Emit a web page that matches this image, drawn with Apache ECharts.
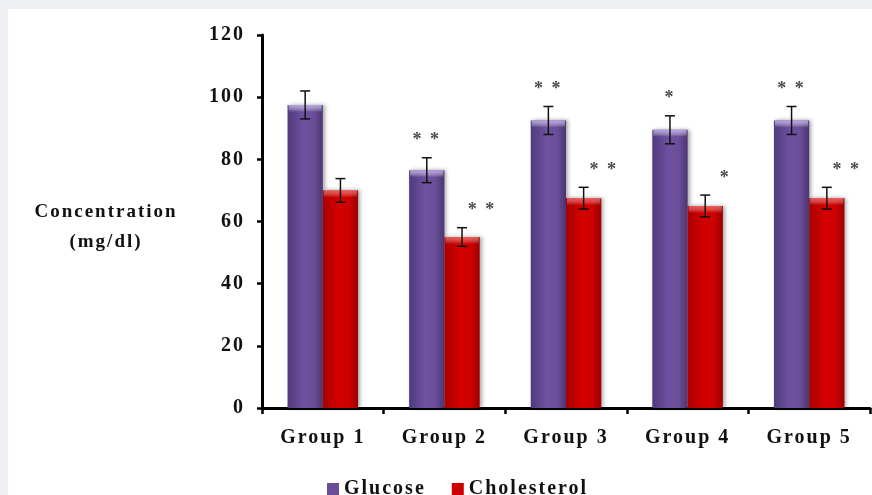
<!DOCTYPE html>
<html><head><meta charset="utf-8">
<script src="https://cdn.jsdelivr.net/npm/echarts@6/dist/echarts.min.js"></script>
<style>html,body{margin:0;padding:0;background:#eef0f3;}#wrap{position:absolute;left:8px;top:9px;width:864px;height:486px;background:#fff;}#c{position:absolute;left:0;top:0;width:872px;height:495px;}</style>
</head><body><div id="wrap"></div><div id="c"></div>
<script>
var categories = ['Group 1', 'Group 2', 'Group 3', 'Group 4', 'Group 5'];
var glucose = [97.5, 76.5, 92.5, 89.5, 92.5];
var glucoseErr = [4.5, 4, 4.5, 4.5, 4.5];
var glucoseSig = ['', '**', '**', '*', '**'];
var cholesterol = [70, 55, 67.5, 65, 67.5];
var cholesterolErr = [3.8, 3, 3.5, 3.5, 3.5];
var cholesterolSig = ['', '**', '**', '*', '**'];
var yTicks = [0, 20, 40, 60, 80, 100, 120];

// widen glyph spacing of drawn text (reference text is loosely spaced)
(function () {
  var proto = CanvasRenderingContext2D.prototype;
  var orig = proto.fillText;
  proto.fillText = function () {
    if ('letterSpacing' in this) { this.letterSpacing = '2px'; }
    return orig.apply(this, arguments);
  };
})();

var serif = '"Liberation Serif","Times New Roman",serif';
var chart = echarts.init(document.getElementById('c'), null, {renderer: 'canvas'});

function errSeries(vals, errs, sigs, side, starDx, hl) {
  return {
    type: 'custom',
    z: 10,
    data: vals.map(function (v, i) { return [i, v, errs[i]]; }),
    renderItem: function (params, api) {
      var cat = api.value(0), v = api.value(1), e = api.value(2);
      var sig = sigs[params.dataIndex];
      var catW = api.size([1, 0])[0];
      var bw = catW * 0.29;
      var c = api.coord([cat, v]);
      var x = c[0] + side * bw / 2;
      var top = api.coord([cat, v + e])[1];
      var bot = api.coord([cat, v - e])[1];
      var cap = 5;
      var st = {stroke: '#111', lineWidth: 1.5};
      var children = [
        {type: 'rect', shape: {x: x - bw / 2 + 1, y: c[1], width: bw - 2, height: 7},
          style: {fill: new echarts.graphic.LinearGradient(0, 0, 0, 1, [
            {offset: 0, color: hl}, {offset: 1, color: 'rgba(255,255,255,0)'}])}},
        {type: 'line', shape: {x1: x, y1: top, x2: x, y2: bot}, style: st},
        {type: 'line', shape: {x1: x - cap, y1: top, x2: x + cap, y2: top}, style: st},
        {type: 'line', shape: {x1: x - cap, y1: bot, x2: x + cap, y2: bot}, style: st}
      ];
      if (sig) {
        children.push({type: 'text', style: {text: sig.split('').join(' '), x: x + starDx, y: top - 17,
          textAlign: 'center', textVerticalAlign: 'middle', fill: '#4a4a4a',
          font: 'bold 18px ' + serif}});
      }
      return {type: 'group', children: children};
    }
  };
}

var purpleGrad = new echarts.graphic.LinearGradient(0, 0, 1, 0, [
  {offset: 0, color: '#4f3a7c'}, {offset: 0.45, color: '#6e52a0'}, {offset: 0.75, color: '#6a4e98'}, {offset: 1, color: '#4a3672'}]);
var redGrad = new echarts.graphic.LinearGradient(0, 0, 1, 0, [
  {offset: 0, color: '#a80000'}, {offset: 0.45, color: '#d40000'}, {offset: 0.75, color: '#cc0000'}, {offset: 1, color: '#9a0000'}]);

chart.setOption({
  backgroundColor: 'transparent',
  animation: false,
  grid: {left: 262, right: 2, top: 35, bottom: 87},
  legend: {
    left: 322, top: 474, itemWidth: 12, itemHeight: 12, itemGap: 40, icon: 'rect',
    data: [{name: 'Glucose', itemStyle: {color: '#6a4e98'}}, {name: 'Cholesterol', itemStyle: {color: '#cc0000'}}],
    textStyle: {fontFamily: serif, fontWeight: 'bold', fontSize: 20, color: '#111', padding: [0, 0, 0, 0]}
  },
  graphic: [
    {type: 'text', x: 106, y: 212, style: {text: 'Concentration', font: 'bold 19px ' + serif, fill: '#111', textAlign: 'center', textVerticalAlign: 'middle'}},
    {type: 'text', x: 106, y: 242, style: {text: '(mg/dl)', font: 'bold 19px ' + serif, fill: '#111', textAlign: 'center', textVerticalAlign: 'middle'}}
  ],
  xAxis: {
    type: 'category', data: categories,
    axisLine: {lineStyle: {color: '#000', width: 3}},
    axisTick: {show: true, length: 6, lineStyle: {color: '#000', width: 2.5}},
    axisLabel: {fontFamily: serif, fontWeight: 'bold', fontSize: 20, color: '#111', margin: 20}
  },
  yAxis: {
    type: 'value', min: 0, max: 120, interval: 20,
    axisLine: {show: true, lineStyle: {color: '#000', width: 3}},
    axisTick: {show: true, length: 5, lineStyle: {color: '#000', width: 2.5}},
    splitLine: {show: false},
    axisLabel: {fontFamily: serif, fontWeight: 'bold', fontSize: 20, color: '#111', margin: 17,
      formatter: function (v) { return yTicks.indexOf(v) >= 0 ? String(v) : ''; }}
  },
  series: [
    {name: 'Glucose', type: 'bar', data: glucose, barWidth: '29%', barGap: '0%',
      itemStyle: {color: purpleGrad, shadowBlur: 4, shadowColor: 'rgba(0,0,0,0.35)', shadowOffsetX: 2}},
    {name: 'Cholesterol', type: 'bar', data: cholesterol, barWidth: '29%', barGap: '0%',
      itemStyle: {color: redGrad, shadowBlur: 4, shadowColor: 'rgba(0,0,0,0.35)', shadowOffsetX: 2}},
    errSeries(glucose, glucoseErr, glucoseSig, -1, 0, 'rgba(190,170,235,0.9)'),
    errSeries(cholesterol, cholesterolErr, cholesterolSig, 1, 20, 'rgba(255,120,120,0.7)')
  ]
});
</script></body></html>
